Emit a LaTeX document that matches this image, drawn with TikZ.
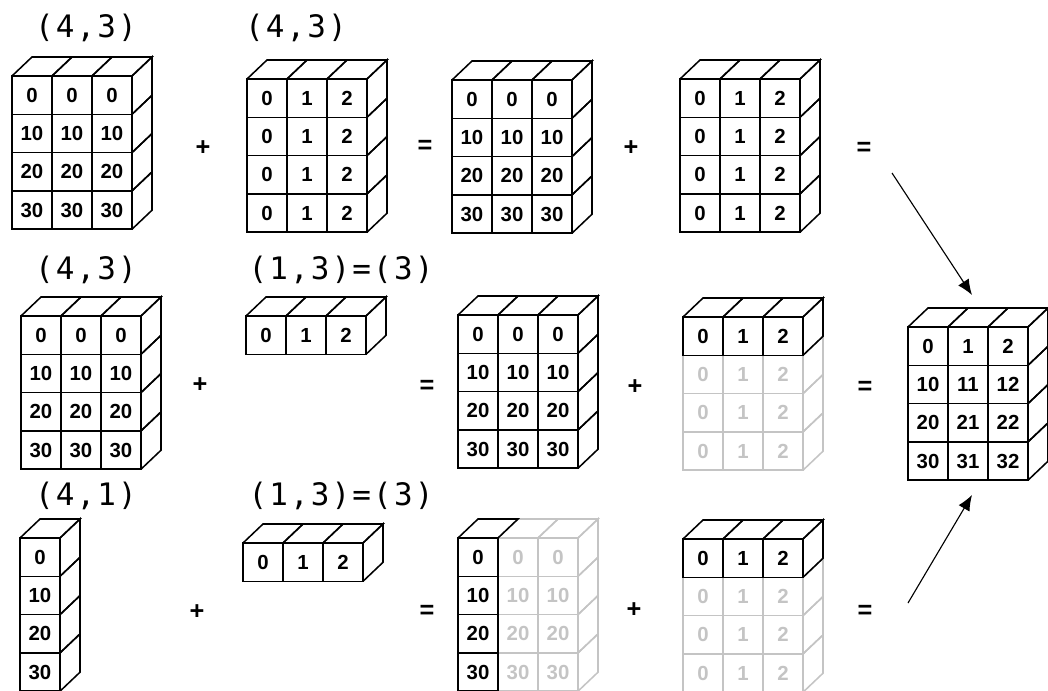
\documentclass[tikz,border=0pt]{standalone}
\usepackage{fontspec}
\setmainfont{Liberation Sans}
\newfontfamily\shapefont[LetterSpace=7]{DejaVu Sans Mono}
\usepackage{xcolor}
\usetikzlibrary{arrows.meta}
\definecolor{cellG}{HTML}{C4C4C4}

% array of unit cubes: name, x, y (front top left), rows, cols,
% row step, column step, dark rows, dark cols
\newcommand{\cubearr}[9]{%
  \foreach \pass in {0,1} {
    \foreach \r in {1,...,#4} {
      \foreach \c in {1,...,#5} {
        \pgfmathtruncatemacro{\isdark}{and(\r<=#8,\c<=#9)}
        \ifnum\isdark=\pass
          \ifnum\isdark=1 \def\cc{black}\else\def\cc{cellG}\fi
          \pgfmathsetmacro{\cx}{#2+40*(\c-1)}
          \pgfmathsetmacro{\cy}{#3+38.3*(\r-1)}
          \pgfmathtruncatemacro{\val}{#6*(\r-1)+#7*(\c-1)}
          \draw[cline, draw=\cc] (\cx,\cy) rectangle ++(40,38.3);
          \ifnum\r=1 \draw[cline, draw=\cc] (\cx,\cy) -- ++(20,-19) -- ++(40,0) -- ++(-20,19);\fi
          \ifnum\c=#5 \draw[cline, draw=\cc] (\cx+40,\cy) -- ++(20,-19) -- ++(0,38.3) -- ++(-20,19);\fi
          \node[num, text=\cc] (#1-\r-\c) at (\cx+20,\cy+19.15) {\val};
        \fi
      }
    }
  }%
}

\begin{document}
\begin{tikzpicture}[x=0.025cm, y=-0.025cm,
  cline/.style={line width=1.1pt, line join=miter},
  num/.style={font=\bfseries\fontsize{14.5}{14.5}\selectfont, inner sep=0pt},
  op/.style={font=\bfseries\fontsize{18}{18}\selectfont, inner sep=0pt},
  lbl/.style={font=\shapefont\fontsize{22}{23}\selectfont, inner sep=0pt},
  conn/.style={-{Latex[length=11pt,width=9pt]}, line width=0.8pt},
  ]
\useasboundingbox (0,0) rectangle (1048,691);

% === shape labels
\node[lbl] (l11) at (86,28) {(4,3)};
\node[lbl] (l12) at (296,28) {(4,3)};
\node[lbl] (l21) at (86,270) {(4,3)};
\node[lbl] (l22) at (341,270) {(1,3)=(3)};
\node[lbl] (l31) at (86,496) {(4,1)};
\node[lbl] (l32) at (341,496) {(1,3)=(3)};

% === row 1
\cubearr{a1}{12}{76}{4}{3}{10}{0}{4}{3}
\cubearr{a2}{247}{79}{4}{3}{0}{1}{4}{3}
\cubearr{a3}{452}{80}{4}{3}{10}{0}{4}{3}
\cubearr{a4}{680}{79}{4}{3}{0}{1}{4}{3}
\node[op] (p11) at (203,148) {+};
\node[op] (q11) at (425,147) {=};
\node[op] (p12) at (631,148) {+};
\node[op] (q12) at (864,149) {=};

% === row 2
\cubearr{b1}{21}{316}{4}{3}{10}{0}{4}{3}
\cubearr{b2}{246}{316}{1}{3}{0}{1}{1}{3}
\cubearr{b3}{458}{315}{4}{3}{10}{0}{4}{3}
\cubearr{b4}{683}{317}{4}{3}{0}{1}{1}{3}
\node[op] (p21) at (200,385) {+};
\node[op] (q21) at (427,387) {=};
\node[op] (p22) at (635,387) {+};
\node[op] (q22) at (865,388) {=};

% === row 3
\cubearr{c1}{20}{538}{4}{1}{10}{0}{4}{1}
\cubearr{c2}{243}{543}{1}{3}{0}{1}{1}{3}
\cubearr{c3}{458}{538}{4}{3}{10}{0}{4}{1}
\cubearr{c4}{683}{539}{4}{3}{0}{1}{1}{3}
\node[op] (p31) at (197,612) {+};
\node[op] (q31) at (427,612) {=};
\node[op] (p32) at (634,610) {+};
\node[op] (q32) at (865,612) {=};

% === result
\cubearr{d}{908}{327}{4}{3}{10}{1}{4}{3}
\coordinate (upfrom) at (892,173);
\coordinate (upto) at (972,295);
\coordinate (dnfrom) at (908,603);
\coordinate (dnto) at (972,495);
\draw[conn] (upfrom) -- (upto);
\draw[conn] (dnfrom) -- (dnto);

\end{tikzpicture}
\end{document}
